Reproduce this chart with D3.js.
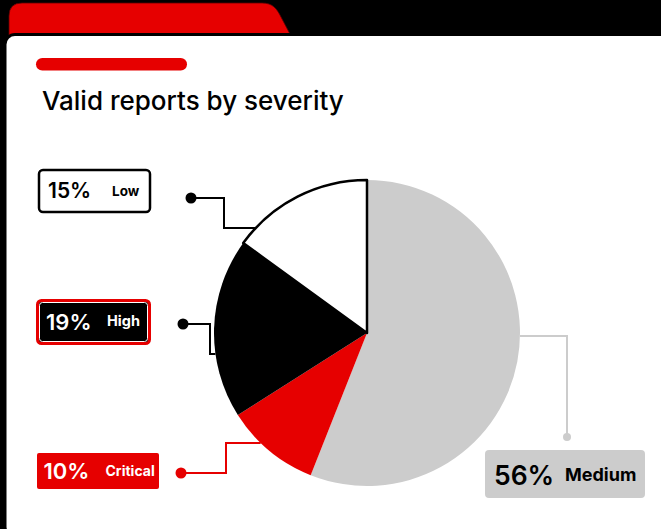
<!DOCTYPE html>
<html>
<head>
<meta charset="utf-8">
<script src="https://cdn.jsdelivr.net/npm/d3@7"></script>
<style>
  html, body { margin: 0; padding: 0; background: #fff; overflow: hidden; }
  svg { display: block; font-family: Inter, "Noto Sans", sans-serif; }
</style>
</head>
<body>
<script>
(function () {
  'use strict';

  // data, clockwise from 12 o'clock
  const categories = ['Medium', 'Critical', 'High', 'Low'];
  const values = [56, 10, 19, 15];
  const title = 'Valid reports by severity';

  const W = 661, H = 529;
  const RED = '#e60000', GREY = '#cccccc';

  const svg = d3.select('body').append('svg')
    .attr('width', W)
    .attr('height', H);

  // ---- frame: black backdrop, red tab, white card ----
  svg.append('rect')
    .attr('x', 0).attr('y', 0)
    .attr('width', W).attr('height', 40)
    .attr('fill', '#000');
  svg.append('rect')
    .attr('x', 0).attr('y', 0)
    .attr('width', 8).attr('height', H)
    .attr('fill', '#000');

  svg.append('path')
    .attr('d', 'M9,36 L9,16 Q9,3 22,3 L262,3 C273,3 277,9 281,17 L291,36 Z')
    .attr('fill', RED)
    .attr('stroke', '#5a0000')
    .attr('stroke-width', 0.8);

  // card runs off the right and bottom edges
  svg.append('rect')
    .attr('x', 5).attr('y', 34.5)
    .attr('width', 665).attr('height', 502)
    .attr('rx', 10)
    .attr('fill', '#fff')
    .attr('stroke', '#000')
    .attr('stroke-width', 3);

  // title + red pill
  svg.append('rect')
    .attr('x', 36).attr('y', 58)
    .attr('width', 151).attr('height', 12.5)
    .attr('rx', 6.25)
    .attr('fill', RED);

  svg.append('text')
    .attr('x', 42).attr('y', 110)
    .attr('font-size', 26)
    .attr('font-weight', 500)
    .attr('fill', '#000')
    .text(title);

  // ---- pie ----
  const cx = 367, cy = 333, R = 153;
  const data = categories.map((c, i) => ({ name: c, value: values[i] }));

  const pie = d3.pie().sort(null).value(d => d.value);
  const arc = d3.arc().innerRadius(0).outerRadius(R);

  const fills = { Medium: GREY, Critical: RED, High: '#000', Low: '#fff' };

  const g = svg.append('g').attr('transform', `translate(${cx},${cy})`);

  g.selectAll('path')
    .data(pie(data))
    .enter()
    .append('path')
    .attr('d', arc)
    .attr('fill', d => fills[d.data.name])
    .attr('stroke', d => d.data.name === 'Low' ? '#000' : 'none')
    .attr('stroke-width', 2.5)
    .attr('stroke-linejoin', 'round');

  // where a horizontal line at y meets the circle
  function edgeX(y, side) {
    const dy = y - cy;
    return cx + side * Math.sqrt(R * R - dy * dy);
  }

  // ---- callouts (layout only) ----
  const layout = {
    Low:      { box: [39, 170, 111, 42], dot: [191, 198], elbow: 224, attach: 228, side: -1,
                fill: '#fff', stroke: '#000', color: '#000', line: '#000',
                pct: [48, 198, 21], lab: [112, 195.5, 13.5] },
    High:     { box: [37.5, 300.5, 112, 43], dot: [183, 324], elbow: 210, attach: 354, side: -1,
                fill: '#000', stroke: RED, color: '#fff', line: '#000',
                pct: [46, 329.5, 22], lab: [107, 326, 14.5] },
    Critical: { box: [37, 453, 122, 36], dot: [181, 473], elbow: 226, attach: 443, side: -1,
                fill: RED, stroke: 'none', color: '#fff', line: RED,
                pct: [43.5, 479, 22], lab: [105.5, 476, 14] },
    Medium:   { box: [485, 450, 160, 48], dot: [567, 437], elbow: 567, attach: 336, side: 1,
                fill: GREY, stroke: 'none', color: '#000', line: GREY,
                pct: [494, 484.5, 26.5], lab: [565, 481, 18] }
  };

  const callouts = svg.append('g')
    .selectAll('g')
    .data(data)
    .enter()
    .append('g');

  callouts.append('path')
    .attr('fill', 'none')
    .attr('stroke', d => layout[d.name].line)
    .attr('stroke-width', 2)
    .attr('d', d => {
      const L = layout[d.name];
      const ex = edgeX(L.attach, L.side);
      if (L.side < 0) {
        return `M${L.dot[0]},${L.dot[1]} H${L.elbow} V${L.attach} H${ex}`;
      }
      return `M${ex},${L.attach} H${L.elbow} V${L.dot[1]}`;
    });

  callouts.append('circle')
    .attr('cx', d => layout[d.name].dot[0])
    .attr('cy', d => layout[d.name].dot[1])
    .attr('r', d => d.name === 'Medium' ? 4 : 5.5)
    .attr('fill', d => layout[d.name].line);

  callouts.append('rect')
    .attr('x', d => layout[d.name].box[0])
    .attr('y', d => layout[d.name].box[1])
    .attr('width', d => layout[d.name].box[2])
    .attr('height', d => layout[d.name].box[3])
    .attr('rx', d => d.name === 'Critical' ? 2 : 4)
    .attr('fill', d => layout[d.name].fill)
    .attr('stroke', d => layout[d.name].stroke)
    .attr('stroke-width', d => d.name === 'High' ? 3 : 2.5);

  // thin white inner rule on the High badge
  callouts.filter(d => d.name === 'High')
    .append('rect')
    .attr('x', d => layout[d.name].box[0] + 2)
    .attr('y', d => layout[d.name].box[1] + 2)
    .attr('width', d => layout[d.name].box[2] - 4)
    .attr('height', d => layout[d.name].box[3] - 4)
    .attr('rx', 3)
    .attr('fill', 'none')
    .attr('stroke', '#fff')
    .attr('stroke-width', 1);

  callouts.append('text')
    .attr('x', d => layout[d.name].pct[0])
    .attr('y', d => layout[d.name].pct[1])
    .attr('font-size', d => layout[d.name].pct[2])
    .attr('font-weight', 600)
    .attr('fill', d => layout[d.name].color)
    .text(d => d.value + '%');

  callouts.append('text')
    .attr('x', d => layout[d.name].lab[0])
    .attr('y', d => layout[d.name].lab[1])
    .attr('font-size', d => layout[d.name].lab[2])
    .attr('font-weight', 700)
    .attr('fill', d => layout[d.name].color)
    .text(d => d.name);
})();
</script>
</body>
</html>
